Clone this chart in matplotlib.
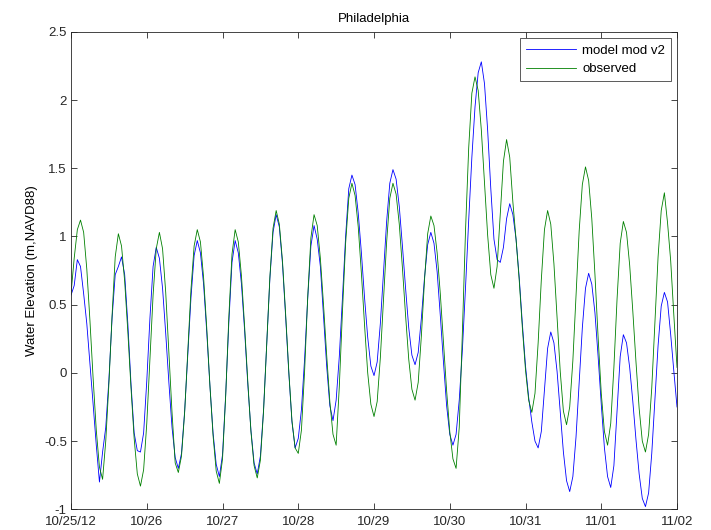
import matplotlib
matplotlib.use("Agg")
import matplotlib.pyplot as plt
import numpy as np

plt.rcParams['font.family'] = ['Liberation Sans', 'DejaVu Sans']

# Hourly water elevation at Philadelphia, 10/25/2012 00:00 through 11/02/2012 00:00
hours = np.arange(0, 193)

model = [
    0.57, 0.64, 0.83, 0.78, 0.58, 0.36, 0.07, -0.23, -0.53, -0.80, -0.58, -0.40,
    -0.05, 0.40, 0.72, 0.78, 0.85, 0.72, 0.36, -0.08, -0.44, -0.57, -0.58, -0.44,
    -0.06, 0.40, 0.78, 0.92, 0.84, 0.62, 0.29, -0.07, -0.40, -0.62, -0.70, -0.59,
    -0.28, 0.14, 0.55, 0.86, 0.97, 0.88, 0.65, 0.30, -0.09, -0.44, -0.67, -0.76,
    -0.60, -0.16, 0.37, 0.81, 0.97, 0.88, 0.65, 0.31, -0.08, -0.42, -0.66, -0.74,
    -0.61, -0.27, 0.21, 0.69, 1.03, 1.16, 1.07, 0.80, 0.41, 0.00, -0.36, -0.55,
    -0.48, -0.27, 0.10, 0.55, 0.93, 1.08, 0.98, 0.78, 0.42, 0.05, -0.24, -0.35,
    -0.20, 0.12, 0.55, 1.00, 1.35, 1.45, 1.38, 1.17, 0.88, 0.55, 0.26, 0.05,
    -0.02, 0.08, 0.36, 0.74, 1.11, 1.39, 1.49, 1.42, 1.22, 0.93, 0.62, 0.33,
    0.13, 0.06, 0.15, 0.40, 0.70, 0.94, 1.03, 0.95, 0.74, 0.42, 0.08, -0.24,
    -0.45, -0.53, -0.45, -0.20, 0.17, 0.63, 1.12, 1.58, 1.95, 2.20, 2.28, 2.12,
    1.78, 1.35, 0.98, 0.83, 0.81, 0.92, 1.13, 1.24, 1.16, 0.98, 0.70, 0.36,
    0.05, -0.18, -0.36, -0.50, -0.55, -0.43, -0.13, 0.18, 0.30, 0.22, 0.01, -0.29,
    -0.58, -0.79, -0.87, -0.76, -0.47, -0.07, 0.33, 0.62, 0.73, 0.65, 0.44, 0.12,
    -0.23, -0.55, -0.76, -0.84, -0.68, -0.28, 0.12, 0.28, 0.22, 0.04, -0.21, -0.49,
    -0.74, -0.92, -0.98, -0.88, -0.59, -0.20, 0.20, 0.49, 0.59, 0.52, 0.28, 0.01,
    -0.25,
]

observed = [
    0.58, 0.84, 1.05, 1.12, 1.03, 0.76, 0.38, -0.04, -0.42, -0.69, -0.78, -0.50,
    -0.08, 0.42, 0.85, 1.02, 0.93, 0.67, 0.30, -0.11, -0.48, -0.74, -0.83, -0.71,
    -0.37, 0.10, 0.57, 0.91, 1.03, 0.91, 0.59, 0.15, -0.29, -0.66, -0.73, -0.61,
    -0.29, 0.16, 0.61, 0.93, 1.05, 0.96, 0.70, 0.33, -0.09, -0.46, -0.72, -0.81,
    -0.63, -0.17, 0.41, 0.87, 1.05, 0.96, 0.71, 0.34, -0.06, -0.43, -0.68, -0.77,
    -0.64, -0.28, 0.21, 0.70, 1.06, 1.19, 1.09, 0.82, 0.43, 0.01, -0.35, -0.55,
    -0.59, -0.42, 0.01, 0.56, 0.99, 1.16, 1.08, 0.84, 0.50, 0.13, -0.21, -0.45,
    -0.53, -0.10, 0.45, 0.95, 1.28, 1.39, 1.30, 1.07, 0.73, 0.35, 0.00, -0.23,
    -0.32, -0.21, 0.11, 0.54, 0.96, 1.28, 1.39, 1.31, 1.09, 0.77, 0.42, 0.10,
    -0.12, -0.20, -0.07, 0.27, 0.68, 1.02, 1.15, 1.08, 0.88, 0.58, 0.23, -0.13,
    -0.43, -0.63, -0.70, -0.40, 0.30, 1.05, 1.65, 2.05, 2.17, 2.07, 1.78, 1.40,
    1.01, 0.72, 0.62, 0.78, 1.17, 1.55, 1.71, 1.58, 1.25, 0.98, 0.68, 0.33,
    0.02, -0.20, -0.29, -0.15, 0.22, 0.68, 1.05, 1.19, 1.09, 0.80, 0.41, 0.01,
    -0.28, -0.38, -0.25, 0.09, 0.57, 1.04, 1.38, 1.51, 1.41, 1.13, 0.72, 0.26,
    -0.15, -0.43, -0.53, -0.37, 0.04, 0.54, 0.95, 1.11, 1.03, 0.79, 0.45, 0.08,
    -0.26, -0.50, -0.58, -0.45, -0.11, 0.37, 0.85, 1.19, 1.32, 1.10, 0.82, 0.42,
    0.04,
]

day_ticks = np.arange(0, 193, 24)
day_labels = ['10/25/12', '10/26', '10/27', '10/28', '10/29', '10/30',
              '10/31', '11/01', '11/02']
y_ticks = [-1, -0.5, 0, 0.5, 1, 1.5, 2, 2.5]
y_labels = ['-1', '-0.5', '0', '0.5', '1', '1.5', '2', '2.5']

fs = 9.5

fig = plt.figure(figsize=(7.11, 5.30), dpi=100)
ax = fig.add_axes([0.0999, 0.039, 0.8523, 0.901])

ax.plot(hours, model, color=(0, 0, 1), lw=0.6, label='model mod v2')
ax.plot(hours, observed, color=(0, 0.5, 0), lw=0.6, label='observed')

ax.set_xlim(0, 192)
ax.set_ylim(-1, 2.5)
ax.set_xticks(day_ticks)
ax.set_xticklabels(day_labels)
ax.set_yticks(y_ticks)
ax.set_yticklabels(y_labels)
ax.tick_params(direction='in', length=4.5, width=0.6, labelsize=fs,
               top=True, right=True, pad=3, colors='#262626')
ax.tick_params(axis='x', pad=4.5)
for s in ax.spines.values():
    s.set_linewidth(0.6)
    s.set_color('#262626')

ax.set_title('Philadelphia', fontsize=fs, pad=7)
ax.set_ylabel('Water Elevation (m,NAVD88)', fontsize=fs, labelpad=4)

leg = ax.legend(loc='upper right', bbox_to_anchor=(0.990, 0.986),
                borderaxespad=0, fancybox=False, framealpha=1,
                edgecolor='#404040', fontsize=fs, handlelength=3.8,
                handletextpad=0.45, labelspacing=0.5, borderpad=0.45)
leg.get_frame().set_linewidth(0.6)

fig.savefig('out.png', dpi=100)
